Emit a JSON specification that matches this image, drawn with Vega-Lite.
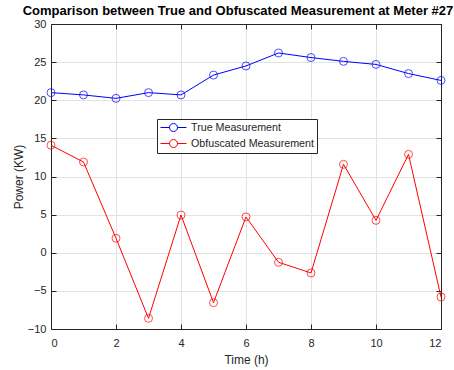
{
  "$schema": "https://vega.github.io/schema/vega-lite/v6.json",
  "width": 390,
  "height": 305,
  "autosize": {"type": "none"},
  "padding": {"left": 51, "top": 24, "right": 13, "bottom": 41},
  "background": "white",
  "title": {
    "text": "Comparison between True and Obfuscated Measurement at Meter #27",
    "font": "Liberation Sans",
    "fontSize": 13,
    "fontWeight": "bold",
    "color": "#000000",
    "anchor": "middle",
    "offset": 6,
    "dy": 6,
    "dx": -8
  },
  "config": {
    "view": {"stroke": null},
    "axis": {
      "labelFont": "Liberation Sans",
      "titleFont": "Liberation Sans",
      "labelFontSize": 11,
      "titleFontSize": 12,
      "titleFontWeight": "normal",
      "labelColor": "#262626",
      "titleColor": "#262626",
      "domainColor": "#262626",
      "tickColor": "#262626",
      "gridColor": "#e3e3e3",
      "domainWidth": 1,
      "tickWidth": 1
    }
  },
  "data": {
    "values": [
      {"t": 0, "v": 21.0, "s": "True Measurement"},
      {"t": 1, "v": 20.7, "s": "True Measurement"},
      {"t": 2, "v": 20.25, "s": "True Measurement"},
      {"t": 3, "v": 21.0, "s": "True Measurement"},
      {"t": 4, "v": 20.7, "s": "True Measurement"},
      {"t": 5, "v": 23.3, "s": "True Measurement"},
      {"t": 6, "v": 24.5, "s": "True Measurement"},
      {"t": 7, "v": 26.2, "s": "True Measurement"},
      {"t": 8, "v": 25.6, "s": "True Measurement"},
      {"t": 9, "v": 25.1, "s": "True Measurement"},
      {"t": 10, "v": 24.7, "s": "True Measurement"},
      {"t": 11, "v": 23.5, "s": "True Measurement"},
      {"t": 12, "v": 22.6, "s": "True Measurement"},
      {"t": 0, "v": 14.1, "s": "Obfuscated Measurement"},
      {"t": 1, "v": 11.9, "s": "Obfuscated Measurement"},
      {"t": 2, "v": 1.9, "s": "Obfuscated Measurement"},
      {"t": 3, "v": -8.6, "s": "Obfuscated Measurement"},
      {"t": 4, "v": 4.95, "s": "Obfuscated Measurement"},
      {"t": 5, "v": -6.55, "s": "Obfuscated Measurement"},
      {"t": 6, "v": 4.7, "s": "Obfuscated Measurement"},
      {"t": 7, "v": -1.25, "s": "Obfuscated Measurement"},
      {"t": 8, "v": -2.65, "s": "Obfuscated Measurement"},
      {"t": 9, "v": 11.6, "s": "Obfuscated Measurement"},
      {"t": 10, "v": 4.25, "s": "Obfuscated Measurement"},
      {"t": 11, "v": 12.9, "s": "Obfuscated Measurement"},
      {"t": 12, "v": -5.8, "s": "Obfuscated Measurement"}
    ]
  },
  "resolve": {"axis": {"x": "independent", "y": "independent"}},
  "layer": [
    {
      "mark": {"type": "line", "strokeWidth": 1},
      "encoding": {
        "x": {
          "field": "t", "type": "quantitative",
          "scale": {"domain": [0, 12], "nice": false},
          "axis": {"title": "Time (h)", "values": [0, 2, 4, 6, 8, 10, 12], "grid": true, "tickSize": -5, "labelPadding": 13, "titlePadding": 6}
        },
        "y": {
          "field": "v", "type": "quantitative",
          "scale": {"domain": [-10, 30], "nice": false},
          "axis": {"title": "Power (KW)", "values": [-10, -5, 0, 5, 10, 15, 20, 25, 30], "grid": true, "tickSize": -5, "labelPadding": 10, "titlePadding": 2}
        },
        "color": {
          "field": "s", "type": "nominal",
          "scale": {"domain": ["True Measurement", "Obfuscated Measurement"], "range": ["#0000ff", "#ff0000"]},
          "legend": {
            "title": null,
            "orient": "none",
            "legendX": 106,
            "legendY": 95,
            "fillColor": "white",
            "strokeColor": "#262626",
            "padding": 3,
            "labelFont": "Liberation Sans",
            "labelFontSize": 10.7,
            "labelColor": "#262626",
            "labelOffset": 20,
            "rowPadding": 3,
            "symbolSize": 100,
            "symbolStrokeWidth": 1,
            "symbolFillColor": "transparent",
            "symbolType": "M-1,0L0.8,0M2.4,0L4.2,0M0.8,0A0.8,0.8,0,1,1,2.4,0A0.8,0.8,0,1,1,0.8,0"
          }
        }
      }
    },
    {
      "mark": {"type": "point", "shape": "circle", "filled": false, "size": 64, "strokeWidth": 1},
      "encoding": {
        "x": {
          "field": "t", "type": "quantitative",
          "axis": {"orient": "top", "title": null, "labels": false, "grid": false, "values": [0, 2, 4, 6, 8, 10, 12], "tickSize": -5}
        },
        "y": {
          "field": "v", "type": "quantitative",
          "axis": {"orient": "right", "title": null, "labels": false, "grid": false, "values": [-10, -5, 0, 5, 10, 15, 20, 25, 30], "tickSize": -5}
        },
        "color": {"field": "s", "type": "nominal", "legend": null}
      }
    }
  ]
}
